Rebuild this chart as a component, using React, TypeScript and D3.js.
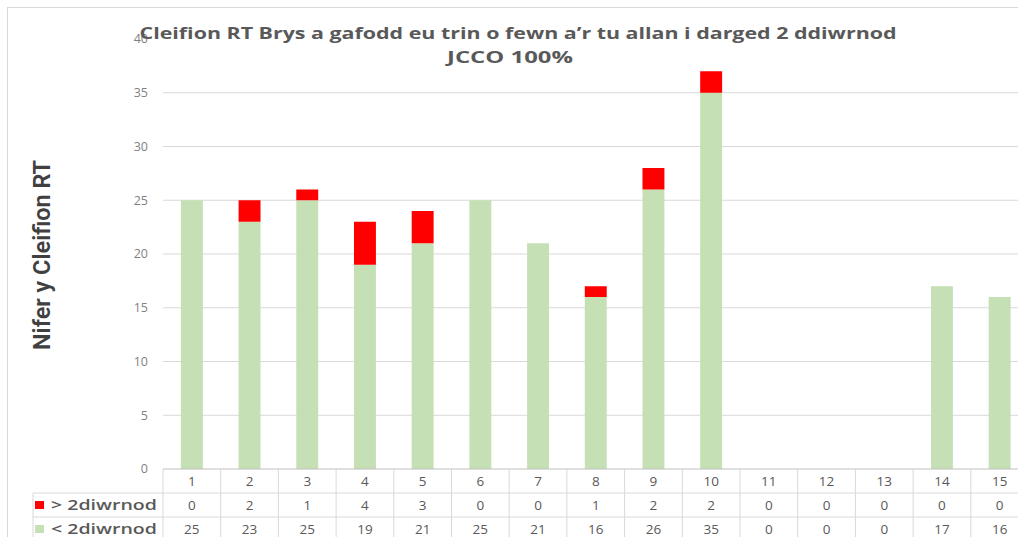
import React from "react";
import * as d3 from "d3";

const WIDTH = 1018;
const HEIGHT = 537;

const categories = ["1", "2", "3", "4", "5", "6", "7", "8", "9", "10", "11", "12", "13", "14", "15"];
const overTarget = [0, 2, 1, 4, 3, 0, 0, 1, 2, 2, 0, 0, 0, 0, 0];
const underTarget = [25, 23, 25, 19, 21, 25, 21, 16, 26, 35, 0, 0, 0, 17, 16];
const yTicks = [0, 5, 10, 15, 20, 25, 30, 35, 40];
const seriesNames = ["> 2diwrnod", "< 2diwrnod"];
const titleLines = [
  "Cleifion RT Brys a gafodd eu trin o fewn a\u2019r tu allan i darged 2 ddiwrnod",
  "JCCO 100%",
];

const GREEN = "#c5e0b4";
const RED = "#ff0000";
const GRID = "#d9d9d9";
const TEXT = "#595959";

export default function App() {
  const x = d3.scaleBand<string>().domain(categories).range([163, 1028.5]).padding(0);
  const y = d3.scaleLinear().domain([0, 40]).range([469, 39]);
  const barW = x.bandwidth() * 0.38;

  const rows = [
    { name: seriesNames[0], values: overTarget, color: RED },
    { name: seriesNames[1], values: underTarget, color: GREEN },
  ];

  const stackData = categories.map((c, i) => ({ cat: c, under: underTarget[i], over: overTarget[i] }));
  const stacked = d3.stack<any>().keys(["under", "over"])(stackData);
  const colors: Record<string, string> = { under: GREEN, over: RED };

  const rowH = 24;
  const tableTop = y(0);

  return (
    <svg
      width={WIDTH}
      height={HEIGHT}
      style={{ position: "absolute", left: 0, top: 0, background: "#fff" }}
      fontFamily="'Open Sans', 'Noto Sans', sans-serif"
    >
      <rect x={7.5} y={7.5} width={WIDTH + 20} height={HEIGHT + 20} fill="#fff" stroke={GRID} />

      {/* y gridlines and ticks */}
      {yTicks.map((t) => (
        <g key={t}>
          {t > 0 && t < 40 && (
            <line x1={163} x2={WIDTH} y1={y(t)} y2={y(t)} stroke={GRID} strokeWidth={1} />
          )}
          <text x={148} y={y(t)} dy="0.35em" textAnchor="end" fontSize={12.5} fill="#7f7f7f">
            {t}
          </text>
        </g>
      ))}

      {/* title */}
      <text x={518} y={39} textAnchor="middle" fontSize={15.5} fontWeight={700} fill={TEXT}
        textLength={757} lengthAdjust="spacingAndGlyphs">
        {titleLines[0]}
      </text>
      <text x={510} y={63} textAnchor="middle" fontSize={15.5} fontWeight={700} fill={TEXT}
        textLength={126} lengthAdjust="spacingAndGlyphs">
        {titleLines[1]}
      </text>

      {/* y axis title */}
      <text
        transform={`translate(50,255) rotate(-90)`}
        textAnchor="middle"
        fontSize={23}
        fontWeight={600}
        fill="#404040"
        fontFamily="'Roboto', 'Open Sans', sans-serif"
        textLength={190}
        lengthAdjust="spacingAndGlyphs"
      >
        Nifer y Cleifion RT
      </text>

      {/* bars */}
      {stacked.map((s) => (
        <g key={s.key} fill={colors[s.key]}>
          {s.map((d, i) =>
            d[1] - d[0] > 0 ? (
              <rect
                key={i}
                x={(x(categories[i]) as number) + (x.bandwidth() - barW) / 2}
                y={y(d[1])}
                width={barW}
                height={y(d[0]) - y(d[1])}
              />
            ) : null
          )}
        </g>
      ))}

      {/* data table */}
      <g stroke={GRID} strokeWidth={1}>
        <line x1={163} x2={WIDTH} y1={tableTop} y2={tableTop} stroke="#bfbfbf" />
        <line x1={33} x2={WIDTH} y1={tableTop + rowH} y2={tableTop + rowH} />
        <line x1={33} x2={WIDTH} y1={tableTop + rowH * 2} y2={tableTop + rowH * 2} />
        <line x1={33} x2={WIDTH} y1={tableTop + rowH * 3} y2={tableTop + rowH * 3} />
        <line x1={33} x2={33} y1={tableTop + rowH} y2={tableTop + rowH * 3} />
        {categories.map((c) => (
          <line key={c} x1={x(c) as number} x2={x(c) as number} y1={tableTop} y2={tableTop + rowH * 3} />
        ))}
      </g>
      {categories.map((c) => (
        <text key={c} x={(x(c) as number) + x.bandwidth() / 2} y={tableTop + rowH / 2} dy="0.35em"
          textAnchor="middle" fontSize={13.5} fill={TEXT}>
          {c}
        </text>
      ))}
      {rows.map((r, ri) => (
        <g key={r.name}>
          <rect x={35} y={tableTop + rowH * (ri + 1) + 8} width={9} height={8} fill={r.color} />
          <text x={51} y={tableTop + rowH * (ri + 1.5)} dy="0.35em" fontSize={14}
            fill={TEXT} fontWeight={600} textLength={106} lengthAdjust="spacingAndGlyphs">
            {r.name}
          </text>
          {r.values.map((v, i) => (
            <text key={i} x={(x(categories[i]) as number) + x.bandwidth() / 2}
              y={tableTop + rowH * (ri + 1.5)} dy="0.35em" textAnchor="middle" fontSize={13.5} fill={TEXT}>
              {v}
            </text>
          ))}
        </g>
      ))}
    </svg>
  );
}
